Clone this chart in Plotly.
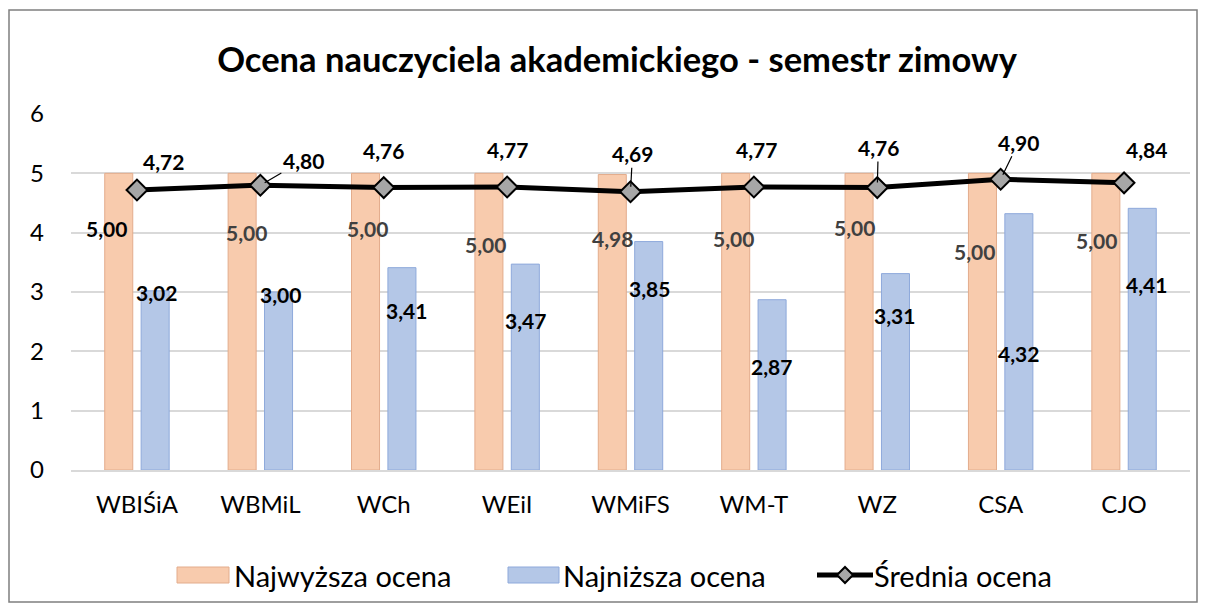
import plotly.graph_objects as go

categories = ["WBIŚiA", "WBMiL", "WCh", "WEiI", "WMiFS", "WM-T", "WZ", "CSA", "CJO"]
najwyzsza = [5.00, 5.00, 5.00, 5.00, 4.98, 5.00, 5.00, 5.00, 5.00]
najnizsza = [3.02, 3.00, 3.41, 3.47, 3.85, 2.87, 3.31, 4.32, 4.41]
srednia = [4.72, 4.80, 4.76, 4.77, 4.69, 4.77, 4.76, 4.90, 4.84]
series_names = ["Najwyższa ocena", "Najniższa ocena", "Średnia ocena"]
title_text = "Ocena nauczyciela akademickiego - semestr zimowy"

FONT = "Lato"
ORANGE = "#F8CBAD"
ORANGE_LINE = "#E3AC8C"
BLUE = "#B4C7E7"
BLUE_LINE = "#8EA9DB"

# page body offset (default 8px margin) and geometry (screen pixels)
OFF = 8
W, H = 1200, 603
L, R, T, B = 63, 18, 106, 141
PW, PH = W - L - R, H - T - B


def px(sx):
    return (sx - OFF - L) / PW


def py(sy):
    return (H - B - (sy - OFF)) / PH


def fmt(v):
    return f"{v:.2f}".replace(".", ",")


fig = go.Figure()
fig.add_trace(go.Bar(x=categories, y=najwyzsza, name=series_names[0],
                     marker=dict(color=ORANGE, line=dict(color=ORANGE_LINE, width=1)),
                     showlegend=False))
fig.add_trace(go.Bar(x=categories, y=najnizsza, name=series_names[1],
                     marker=dict(color=BLUE, line=dict(color=BLUE_LINE, width=1)),
                     showlegend=False))
fig.add_trace(go.Scatter(x=categories, y=srednia, name=series_names[2], mode="lines+markers",
                         line=dict(color="black", width=5),
                         marker=dict(symbol="diamond", size=16, color="#A6A6A6",
                                     line=dict(color="black", width=2)),
                         showlegend=False))

ann = []
lab_font = dict(family=FONT, size=21, color="black", weight="bold")
gray_font = dict(family=FONT, size=21, color="#404040", weight="bold")

# label placement (screen pixels) -- styling only
top_dx = [-12, 4, 2, -4, 0, -2, -5, -8, -10]
top_y = [228, 232, 228, 244, 238, 238, 227, 251, 240]
for i, c in enumerate(categories):
    ann.append(dict(x=c, y=py(top_y[i]) * 6, xref="x", yref="y", text=fmt(najwyzsza[i]),
                    showarrow=False, xshift=-18 + top_dx[i],
                    font=lab_font if i == 0 else gray_font))

low_y = [292, 294, 310, 320, 288, 366, 315, 353, 284]
low_dx = [2, 2, 5, 0, 1, 0, -1, 0, 4]
for i, c in enumerate(categories):
    ann.append(dict(x=c, y=py(low_y[i]) * 6, xref="x", yref="y", text=fmt(najnizsza[i]),
                    showarrow=False, xshift=18 + low_dx[i], font=lab_font))

# average labels: (dx, dy, leader)
avg_pos = [(27, -28, False), (43, -25, True), (0, -37, False), (0, -37, False),
           (2, -38, True), (3, -37, False), (1, -40, True), (18, -37, True), (22, -33, False)]
for i, c in enumerate(categories):
    ax, ay, lead = avg_pos[i]
    if lead:
        ann.append(dict(x=c, y=srednia[i], xref="x", yref="y", text=fmt(srednia[i]),
                        showarrow=True, arrowhead=0, arrowwidth=1.2, arrowcolor="black",
                        ax=ax, ay=ay, standoff=5, font=lab_font))
    else:
        ann.append(dict(x=c, y=srednia[i], xref="x", yref="y", text=fmt(srednia[i]),
                        showarrow=False, xshift=ax, yshift=-ay, font=lab_font))

# custom legend
leg_font = dict(family=FONT, size=29, color="black")
shapes = []
shapes.append(dict(type="rect", xref="paper", yref="paper", x0=px(177), x1=px(229),
                   y0=py(583), y1=py(567), fillcolor=ORANGE, line=dict(color=ORANGE_LINE, width=1)))
ann.append(dict(xref="paper", yref="paper", x=px(232), y=py(575), text=series_names[0],
                showarrow=False, xanchor="left", yanchor="middle", font=leg_font))
shapes.append(dict(type="rect", xref="paper", yref="paper", x0=px(508), x1=px(559),
                   y0=py(583), y1=py(567), fillcolor=BLUE, line=dict(color=BLUE_LINE, width=1)))
ann.append(dict(xref="paper", yref="paper", x=px(561), y=py(575), text=series_names[1],
                showarrow=False, xanchor="left", yanchor="middle", font=leg_font))
shapes.append(dict(type="line", xref="paper", yref="paper", x0=px(817), x1=px(873),
                   y0=py(575), y1=py(575), line=dict(color="black", width=5)))
dx, dy = 8 / PW, 8 / PH
cx, cy = px(845), py(575)
shapes.append(dict(type="path", xref="paper", yref="paper",
                   path=f"M {cx-dx} {cy} L {cx} {cy+dy} L {cx+dx} {cy} L {cx} {cy-dy} Z",
                   fillcolor="#A6A6A6", line=dict(color="black", width=2)))
ann.append(dict(xref="paper", yref="paper", x=px(872), y=py(575), text=series_names[2],
                showarrow=False, xanchor="left", yanchor="middle", font=leg_font))

# outer border
shapes.append(dict(type="rect", xref="paper", yref="paper", x0=px(9), x1=px(1197),
                   y0=py(602), y1=py(10), line=dict(color="#7F7F7F", width=1.5),
                   fillcolor="rgba(0,0,0,0)", layer="below"))

fig.update_layout(
    width=W, height=H,
    margin=dict(l=L, r=R, t=T, b=B),
    paper_bgcolor="white", plot_bgcolor="white",
    barmode="group", bargap=0.41, bargroupgap=0.23,
    title=dict(text=title_text, x=px(617), xref="paper", xanchor="center",
               y=1 - (60 - OFF) / H, yanchor="middle",
               font=dict(family=FONT, size=34.5, color="black", weight="bold")),
    xaxis=dict(tickfont=dict(family=FONT, size=24, color="black"), showline=True,
               linecolor="#D9D9D9", linewidth=1.5, ticks="", ticklabelstandoff=12),
    yaxis=dict(range=[0, 6], dtick=1, tickfont=dict(family=FONT, size=24, color="black"),
               gridcolor="#D9D9D9", gridwidth=1.5, zeroline=False, ticks="",
               ticklabelstandoff=26, showline=False),
    annotations=ann, shapes=shapes, showlegend=False,
)

fig.write_html("out.html")
